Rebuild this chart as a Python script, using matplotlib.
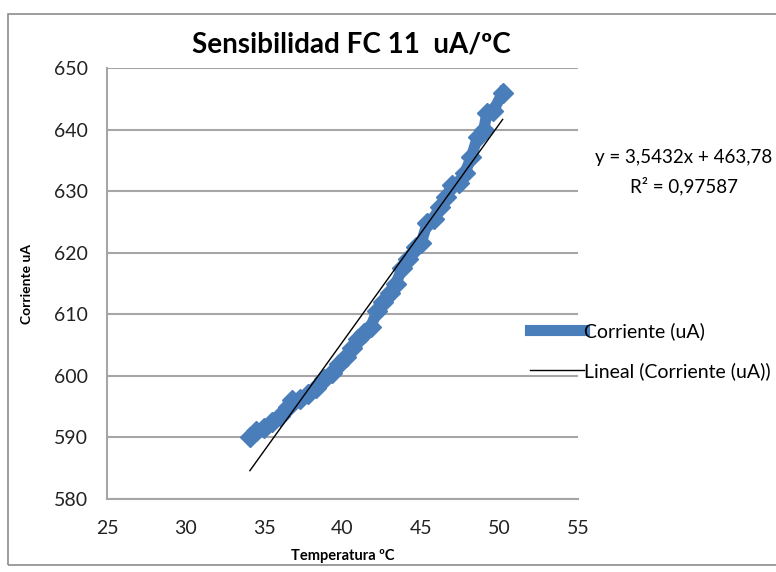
import numpy as np
import matplotlib.pyplot as plt
from matplotlib.patches import Rectangle

# data
temperatura = [34.1, 34.5, 35.0, 35.5, 36.0, 36.5, 36.8, 37.3, 37.8, 38.3, 38.8, 39.3,
               39.8, 40.2, 40.6, 41.0, 41.4, 41.8, 42.2, 42.6, 43.0, 43.4, 43.8, 44.2,
               44.7, 45.0, 45.4, 45.8, 46.2, 46.6, 47.0, 47.4, 47.8, 48.2, 48.6, 49.0,
               49.2, 49.6, 50.2]
corriente = [590.0, 591.0, 591.5, 592.5, 593.5, 595.0, 596.0, 596.3, 597.0, 598.0, 599.5, 600.5,
             602.0, 603.0, 604.5, 606.0, 607.0, 608.0, 610.5, 612.0, 613.5, 615.0, 617.5, 619.0,
             620.9, 621.5, 624.8, 625.5, 627.5, 629.0, 631.0, 631.3, 633.0, 635.5, 638.8, 640.0,
             642.7, 643.0, 646.0]
pendiente = 3.5432
ordenada = 463.78

azul = '#4a7ebb'
plt.rcParams['font.family'] = ['Lato', 'DejaVu Sans']

fig = plt.figure(figsize=(7.76, 5.72), dpi=100)
fig.patches.append(Rectangle((8/776, 1-565/572), 1.0, 551/572, transform=fig.transFigure,
                             fill=False, edgecolor='#8c8c8c', linewidth=1.2))
ax = fig.add_axes([107/776, 1-499/572, 471/776, 431/572])

ax.plot(temperatura, corriente, color=azul, lw=8, marker='D', ms=10,
        markeredgecolor=azul, label='Corriente (uA)', zorder=2)
xt = np.array([temperatura[0], temperatura[-1]])
ax.plot(xt, pendiente*xt + ordenada, color='black', lw=1,
        label='Lineal (Corriente (uA))', zorder=3)

ax.set_xlim(25, 55)
ax.set_ylim(580, 650)
ax.set_xticks(range(25, 56, 5))
ax.set_yticks(range(580, 651, 10))
ax.yaxis.grid(True, color='#a6a6a6', lw=1.5)
ax.set_axisbelow(True)
for s in ['top', 'right']:
    ax.spines[s].set_visible(False)
for s in ['left', 'bottom']:
    ax.spines[s].set_color('#a6a6a6')
    ax.spines[s].set_linewidth(1.5)
ax.tick_params(length=0, labelsize=14, colors='#222222')
ax.tick_params(axis='x', pad=15)
ax.tick_params(axis='y', pad=14)

fig.text(351/776, 1-45/572, 'Sensibilidad FC 11  uA/ºC', ha='center', va='center',
         fontsize=20, fontweight='bold')
ax.set_xlabel('Temperatura ºC', fontsize=10.5, fontweight='bold', labelpad=9)
ax.set_ylabel('Corriente uA', fontsize=10, fontweight='bold', labelpad=15)

fig.text(684/776, 1-158/572, 'y = 3,5432x + 463,78', ha='center', va='center', fontsize=13.5)
fig.text(684/776, 1-186/572, 'R² = 0,97587', ha='center', va='center', fontsize=13.5)

ax.legend(loc='center left', bbox_to_anchor=(0.86, 0.343), frameon=False, fontsize=14,
          handlelength=2.8, handletextpad=0.0, labelspacing=1.15, markerscale=0.5)

plt.savefig('out.png', dpi=100)
